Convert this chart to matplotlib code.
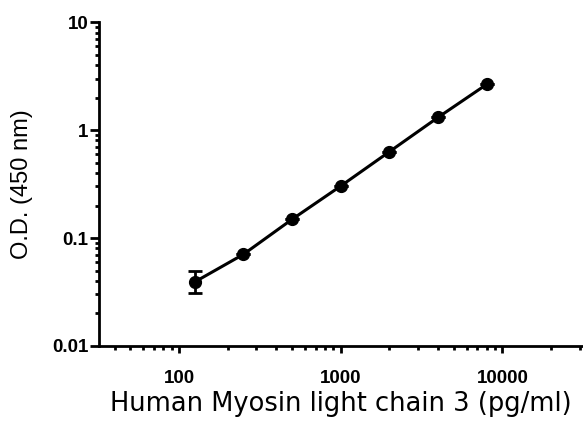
import matplotlib.pyplot as plt
import numpy as np

concentration = [125, 250, 500, 1000, 2000, 4000, 8000]
od_450 = [0.0392, 0.0706, 0.149, 0.303, 0.630, 1.31, 2.65]
err_low = [0.0080, 0, 0, 0, 0, 0, 0]
err_high = [0.0098, 0, 0, 0, 0, 0, 0]

x_ticks = [100, 1000, 10000]
x_labels = ["100", "1000", "10000"]
y_ticks = [0.01, 0.1, 1, 10]
y_labels = ["0.01", "0.1", "1", "10"]

plt.rcParams['font.family'] = ['Liberation Sans', 'DejaVu Sans']

fig = plt.figure(figsize=(5.83, 4.24), dpi=100)
ax = fig.add_axes([0.170, 0.184, 0.828, 0.764])

ax.errorbar(concentration, od_450, yerr=[err_low, err_high], fmt='o-',
            color='black', markersize=8.5, linewidth=2.2, elinewidth=2,
            capsize=5, capthick=2)

ax.set_xscale('log')
ax.set_yscale('log')
ax.set_xlim(32, 31000)
ax.set_ylim(0.01, 10)

ax.set_xticks(x_ticks)
ax.set_xticklabels(x_labels, fontweight='bold', fontsize=13.5)
ax.set_yticks(y_ticks)
ax.set_yticklabels(y_labels, fontweight='bold', fontsize=13.5)

ax.spines['top'].set_visible(False)
ax.spines['right'].set_visible(False)
ax.spines['left'].set_linewidth(2)
ax.spines['bottom'].set_linewidth(2)
ax.tick_params(axis='x', which='major', length=5, width=2, pad=12)
ax.tick_params(axis='y', which='major', length=6.5, width=2, pad=1)
ax.tick_params(which='minor', length=3, width=2)

ax.set_xlabel("Human Myosin light chain 3 (pg/ml)", fontsize=18.5,
              family=['DejaVu Sans'], labelpad=3)
ax.set_ylabel("O.D. (450 nm)", fontsize=17, labelpad=14)

plt.savefig("out.png", dpi=100)
